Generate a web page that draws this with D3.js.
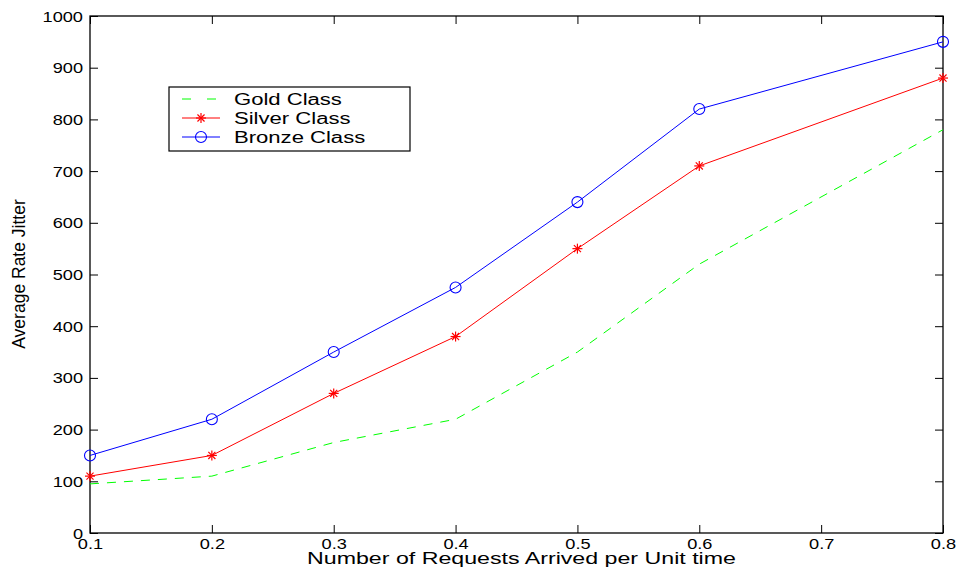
<!DOCTYPE html>
<html><head><meta charset="utf-8">
<script src="https://cdn.jsdelivr.net/npm/d3@7"></script>
<style>body{margin:0;background:#fff}text{font-family:"Liberation Sans",Arial,sans-serif}</style>
</head><body><svg id="c" width="959" height="576"></svg>
<script>
const xValues = [0.1, 0.2, 0.3, 0.4, 0.5, 0.6, 0.8];
const gold = [95, 110, 175, 220, 350, 520, 780];
const silver = [110, 150, 270, 380, 550, 710, 880];
const bronze = [150, 220, 350, 475, 640, 820, 950];
const xTicks = [0.1, 0.2, 0.3, 0.4, 0.5, 0.6, 0.7, 0.8];
const yTicks = [0, 100, 200, 300, 400, 500, 600, 700, 800, 900, 1000];
const seriesNames = ["Gold Class", "Silver Class", "Bronze Class"];

const svg = d3.select("#c");
const L = 90, R = 943, T = 16, B = 533;
const x = d3.scaleLinear().domain([0.1, 0.8]).range([L, R]);
const y = d3.scaleLinear().domain([0, 1000]).range([B, T]);

svg.append("rect").attr("x", L).attr("y", T).attr("width", R - L).attr("height", B - T)
  .attr("fill", "none").attr("stroke", "#000").attr("stroke-width", 1.3);

const tk = 8, SX = 1.3;
const axB = svg.append("g").attr("transform", `translate(0,${B})`)
  .call(d3.axisBottom(x).tickValues(xTicks).tickFormat(d3.format(".1f")).tickSizeInner(-tk).tickSizeOuter(0));
const axT = svg.append("g").attr("transform", `translate(0,${T})`)
  .call(d3.axisTop(x).tickValues(xTicks).tickFormat("").tickSizeInner(-tk).tickSizeOuter(0));
const axL = svg.append("g").attr("transform", `translate(${L},0)`)
  .call(d3.axisLeft(y).tickValues(yTicks).tickFormat(d3.format("d")).tickSizeInner(-tk).tickSizeOuter(0));
const axR = svg.append("g").attr("transform", `translate(${R},0)`)
  .call(d3.axisRight(y).tickValues(yTicks).tickFormat("").tickSizeInner(-tk).tickSizeOuter(0));
[axB, axT, axL, axR].forEach(a => {
  a.select(".domain").remove();
  a.selectAll("line").attr("stroke", "#000").attr("stroke-width", 1);
  a.selectAll("text").attr("font-size", 14).attr("fill", "#000")
   .attr("font-family", "'Liberation Sans', Arial, sans-serif");
});
axB.selectAll("text").attr("x", 0).attr("y", 0).attr("dy", 0)
  .attr("transform", `translate(0,15.5) scale(${SX},1)`);
axL.selectAll("text").attr("x", 0).attr("dy", "0.36em")
  .attr("transform", `translate(-7,0) scale(${SX},1)`);

const line = d3.line().x((d, i) => x(xValues[i])).y(d => y(d));

svg.append("path").datum(gold).attr("d", line).attr("fill", "none")
  .attr("stroke", "#00ff00").attr("stroke-width", 1).attr("stroke-dasharray", "9,8");
svg.append("path").datum(silver).attr("d", line).attr("fill", "none")
  .attr("stroke", "#ff0000").attr("stroke-width", 1);
svg.append("path").datum(bronze).attr("d", line).attr("fill", "none")
  .attr("stroke", "#0000ff").attr("stroke-width", 1);

function star(g, cx, cy, r) {
  for (let k = 0; k < 4; k++) {
    const a = k * Math.PI / 4;
    g.append("line").attr("x1", cx - r * Math.cos(a)).attr("y1", cy - r * Math.sin(a))
      .attr("x2", cx + r * Math.cos(a)).attr("y2", cy + r * Math.sin(a))
      .attr("stroke", "#ff0000").attr("stroke-width", 1.2);
  }
}
const sg = svg.append("g");
silver.forEach((d, i) => star(sg, x(xValues[i]), y(d), 5));
svg.append("g").selectAll("circle").data(bronze).join("circle")
  .attr("cx", (d, i) => x(xValues[i])).attr("cy", d => y(d)).attr("r", 5.5)
  .attr("fill", "none").attr("stroke", "#0000ff").attr("stroke-width", 1.1);

// legend
const lg = svg.append("g");
lg.append("rect").attr("x", 169).attr("y", 87).attr("width", 241).attr("height", 64)
  .attr("fill", "#fff").attr("stroke", "#000").attr("stroke-width", 1.2);
const ly = [99, 118, 137];
lg.append("line").attr("x1", 182).attr("x2", 220).attr("y1", ly[0]).attr("y2", ly[0])
  .attr("stroke", "#00ff00").attr("stroke-dasharray", "9,16");
lg.append("line").attr("x1", 182).attr("x2", 220).attr("y1", ly[1]).attr("y2", ly[1]).attr("stroke", "#ff0000");
star(lg, 201, ly[1], 5);
lg.append("line").attr("x1", 182).attr("x2", 220).attr("y1", ly[2]).attr("y2", ly[2]).attr("stroke", "#0000ff");
lg.append("circle").attr("cx", 201).attr("cy", ly[2]).attr("r", 5.5).attr("fill", "none").attr("stroke", "#0000ff").attr("stroke-width", 1.1);
lg.selectAll("text.l").data(seriesNames).join("text").attr("class", "l")
  .attr("transform", (d, i) => `translate(234,${ly[i]}) scale(1.38,1)`).attr("dy", "0.36em")
  .attr("font-size", 16).attr("fill", "#000").text(d => d);

// axis labels
svg.append("text").attr("transform", `translate(${(298 + 745) / 2},564) scale(1.45,1)`).attr("text-anchor", "middle")
  .attr("font-size", 16).attr("fill", "#000").text("Number of Requests Arrived per Unit time");
svg.append("text").attr("transform", "translate(25,274) rotate(-90)")
  .attr("text-anchor", "middle").attr("font-size", 17.5).attr("fill", "#000").text("Average Rate Jitter");
</script></body></html>
